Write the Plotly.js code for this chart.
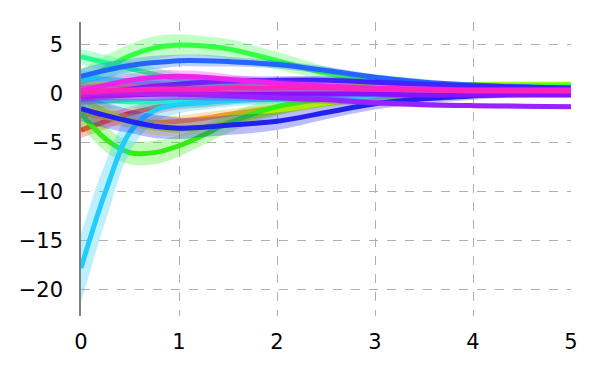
<!DOCTYPE html>
<html>
<head>
<meta charset="utf-8">
<script src="https://cdn.plot.ly/plotly-3.0.1.min.js"></script>
<style>
  html, body { margin: 0; padding: 0; background: #fff; }
  #myDiv { width: 600px; height: 375px; }
</style>
</head>
<body>
<div id="myDiv"></div>
<script>
// shared x grid
var xs = [0, 0.25, 0.5, 0.75, 1, 1.25, 1.5, 2, 2.5, 3, 3.5, 4, 4.5, 5];

// series means
var red     = [-3.7, -2.8, -2.0, -1.4, -1.0, -0.8, -0.6, -0.4, -0.2, 0.0, 0.1, 0.1, 0.1, 0.1];
var orange  = [-2.0, -2.4, -2.7, -2.9, -2.8, -2.5, -2.1, -1.4, -0.8, -0.4, -0.1, 0.0, 0.1, 0.1];
var yellow  = [-0.5, -1.8, -2.9, -3.5, -3.7, -3.4, -2.9, -1.8, -1.0, -0.5, -0.2, 0.0, 0.1, 0.1];
var lime    = [1.3, 1.0, 0.8, 0.7, 0.6, 0.6, 0.6, 0.6, 0.7, 0.8, 0.9, 0.95, 1.0, 1.0];
var green   = [1.2, 2.6, 3.9, 4.7, 5.0, 4.9, 4.6, 3.4, 2.1, 1.2, 0.9, 0.8, 0.8, 0.8];
var green2  = [-2.0, -4.6, -6.0, -6.0, -5.3, -4.2, -3.0, -1.3, -0.5, -0.1, 0.1, 0.2, 0.2, 0.2];
var spring  = [3.8, 3.2, 2.6, 2.0, 1.5, 1.2, 1.0, 0.7, 0.5, 0.4, 0.4, 0.4, 0.4, 0.4];
var aqua    = [-0.6, -0.7, -0.8, -0.8, -0.8, -0.7, -0.6, -0.5, -0.3, -0.2, -0.1, 0.0, 0.0, 0.0];
var cyan    = [1.6, 1.5, 1.3, 1.1, 0.9, 0.8, 0.7, 0.5, 0.4, 0.3, 0.2, 0.2, 0.2, 0.2];
var sky     = [-17.8, -10.0, -3.9, -1.7, -1.1, -0.9, -0.7, -0.5, -0.3, -0.2, -0.1, 0.0, 0.0, 0.0];
var blue    = [1.8, 2.4, 2.9, 3.2, 3.4, 3.4, 3.3, 3.0, 2.4, 1.7, 1.2, 0.9, 0.7, 0.5];
var navy    = [-1.5, -2.2, -2.8, -3.3, -3.5, -3.4, -3.2, -2.8, -1.9, -1.0, -0.5, -0.2, 0.0, 0.2];
var indigo  = [0.0, 0.2, 0.5, 0.8, 1.0, 1.2, 1.3, 1.4, 1.4, 1.2, 1.0, 0.8, 0.7, 0.6];
var violet  = [-0.3, -0.2, -0.1, 0.0, 0.0, 0.0, 0.0, 0.0, 0.0, 0.0, -0.1, -0.1, -0.1, -0.1];
var purple  = [0.1, 0.1, 0.1, 0.0, 0.0, -0.1, -0.2, -0.4, -0.6, -0.9, -1.1, -1.2, -1.25, -1.3];
var magenta = [0.3, 0.9, 1.4, 1.7, 1.8, 1.7, 1.5, 1.1, 0.8, 0.6, 0.5, 0.4, 0.4, 0.4];
var pink    = [0.2, 0.3, 0.4, 0.5, 0.5, 0.5, 0.6, 0.6, 0.6, 0.5, 0.4, 0.3, 0.3, 0.3];

// band half widths
var sdSmall = [0.8, 0.8, 0.7, 0.7, 0.6, 0.6, 0.5, 0.4, 0.4, 0.3, 0.3, 0.25, 0.25, 0.25];
var sdWide  = [1.3, 1.3, 1.2, 1.2, 1.1, 1.0, 1.0, 0.9, 0.7, 0.6, 0.5, 0.4, 0.35, 0.35];
var sdSky   = [3.5, 3.0, 2.0, 1.2, 0.9, 0.7, 0.6, 0.5, 0.4, 0.3, 0.25, 0.25, 0.25, 0.25];

var series = [
  {y: red,     c: '255,51,34',   sd: sdSmall},
  {y: orange,  c: '255,153,34',  sd: sdSmall},
  {y: yellow,  c: '221,238,0',   sd: sdSmall},
  {y: lime,    c: '170,255,0',   sd: sdSmall},
  {y: green,   c: '51,255,68',   sd: sdWide},
  {y: green2,  c: '51,238,17',   sd: sdWide},
  {y: spring,  c: '34,255,136',  sd: sdSmall},
  {y: aqua,    c: '34,255,187',  sd: sdSmall},
  {y: cyan,    c: '17,238,238',  sd: sdSmall},
  {y: sky,     c: '34,204,255',  sd: sdSky},
  {y: blue,    c: '34,102,255',  sd: sdSmall},
  {y: navy,    c: '34,34,238',   sd: sdWide},
  {y: indigo,  c: '68,34,255',   sd: sdSmall},
  {y: violet,  c: '136,17,255',  sd: sdSmall},
  {y: purple,  c: '153,34,255',  sd: sdSmall},
  {y: magenta, c: '238,34,238',  sd: sdSmall},
  {y: pink,    c: '255,34,187',  sd: sdSmall}
];

var data = [];
series.forEach(function (s) {
  var up = s.y.map(function (v, i) { return v + s.sd[i]; });
  var lo = s.y.map(function (v, i) { return v - s.sd[i]; });
  data.push({x: xs, y: up, mode: 'lines', line: {width: 0, shape: 'spline'},
             hoverinfo: 'skip', showlegend: false});
  data.push({x: xs, y: lo, mode: 'lines', line: {width: 0, shape: 'spline'},
             fill: 'tonexty', fillcolor: 'rgba(' + s.c + ',0.3)',
             hoverinfo: 'skip', showlegend: false});
  data.push({x: xs, y: s.y, mode: 'lines',
             line: {width: 5, shape: 'spline', color: 'rgb(' + s.c + ')'},
             showlegend: false});
});

var tickFont = {family: 'DejaVu Sans, sans-serif', size: 21, color: '#000'};

var layout = {
  width: 600, height: 375,
  margin: {l: 81, r: 29, t: 22, b: 59},
  paper_bgcolor: '#fff', plot_bgcolor: '#fff',
  font: tickFont,
  showlegend: false,
  xaxis: {
    range: [0, 5], tickvals: [0, 1, 2, 3, 4, 5], tickfont: tickFont,
    showgrid: true, gridcolor: '#b0b0b0', griddash: 'dash', gridwidth: 1,
    zeroline: false, showline: false, ticks: '', ticklabelstandoff: 11
  },
  yaxis: {
    range: [-22.7, 7.35], tickvals: [-20, -15, -10, -5, 0, 5], tickfont: tickFont,
    ticktext: ['\u221220', '\u221215', '\u221210', '\u22125', '0', '5'],
    showgrid: true, gridcolor: '#b0b0b0', griddash: 'dash', gridwidth: 1,
    zeroline: false, showline: true, linecolor: '#808080', linewidth: 1.5,
    ticks: '', ticklabelstandoff: 12
  }
};

Plotly.newPlot('myDiv', data, layout, {displayModeBar: false});
</script>
</body>
</html>
